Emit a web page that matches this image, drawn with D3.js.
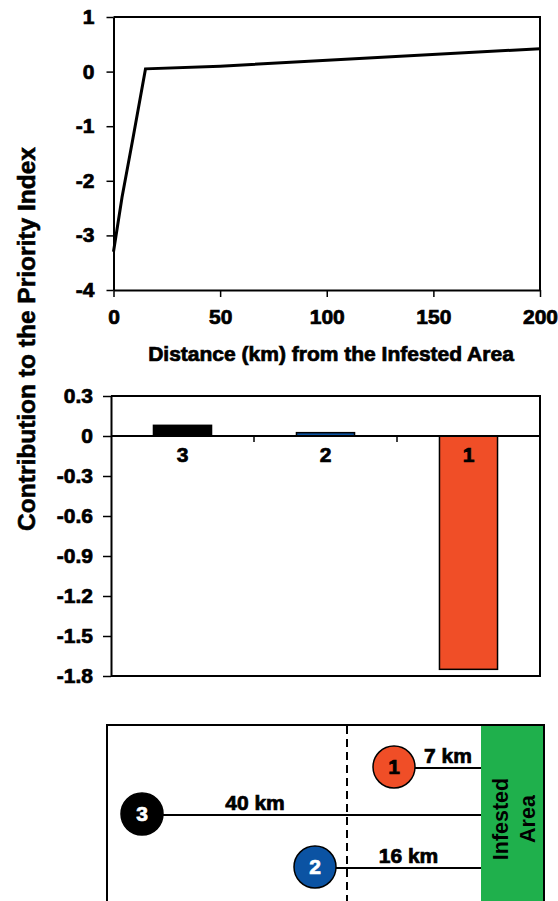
<!DOCTYPE html>
<html>
<head>
<meta charset="utf-8">
<script src="https://cdn.jsdelivr.net/npm/d3@7"></script>
<style>
body { margin: 0; background: #fff; }
text { font-family: "Liberation Sans", Arial, sans-serif; font-weight: bold; }
</style>
</head>
<body>
<div id="chart"></div>
<script>
// top panel: contribution vs distance
var distKm = [0, 4, 9, 15, 50, 200];
var contrib = [-3.3, -2.3, -1.25, 0.05, 0.1, 0.42];
var lineXTicks = [0, 50, 100, 150, 200];
var lineYTicks = [1, 0, -1, -2, -3, -4];

// middle panel: contribution of each site
var sites = ["3", "2", "1"];
var siteValues = [0.08, 0.025, -1.75];
var siteColors = ["#000000", "#0b53a3", "#f04e27"];
var barYTicks = [0.3, 0, -0.3, -0.6, -0.9, -1.2, -1.5, -1.8];

// bottom panel: schematic of sites
var mapSites = ["1", "3", "2"];
var mapKm = [7, 40, 16];
var mapColors = ["#f04e27", "#000000", "#0b53a3"];
var mapTextColors = ["#000000", "#ffffff", "#ffffff"];

var svg = d3.select("#chart")
    .append("svg")
    .attr("width", 558)
    .attr("height", 901);

var FS = 20;

// widen horizontal text a little and thicken it, the original lettering is heavy
function stretch(sel) {
    sel.each(function () {
        var w = this.getComputedTextLength();
        d3.select(this)
            .attr("textLength", w * 1.05)
            .attr("lengthAdjust", "spacingAndGlyphs")
            .attr("stroke", d3.select(this).attr("fill") || "#000")
            .attr("stroke-width", 0.7);
    });
}

function styleAxis(g) {
    g.attr("font-size", FS)
        .attr("font-family", "Liberation Sans, Arial, sans-serif")
        .attr("font-weight", "bold");
    g.select(".domain").attr("stroke-width", 2);
    g.selectAll(".tick line").attr("stroke-width", 1.5);
    g.selectAll(".tick text").attr("fill", "#000").call(stretch);
}

/********************************************************/
// line chart

var x = d3.scaleLinear().domain([0, 200]).range([113.5, 540]);
var y = d3.scaleLinear().domain([-4, 1]).range([290, 17]);

svg.append("g")
    .attr("transform", "translate(0,290)")
    .call(d3.axisBottom(x).tickValues(lineXTicks).tickSize(7).tickPadding(13).tickSizeOuter(0))
    .call(styleAxis);

svg.append("g")
    .attr("transform", "translate(113.5,0)")
    .call(d3.axisLeft(y).tickValues(lineYTicks).tickSize(7).tickPadding(12).tickSizeOuter(0)
        .tickFormat(d => String(d)))
    .call(styleAxis);

svg.append("path")
    .attr("d", `M${x(0)},${y(1)}H${x(200)}V${y(-4)}`)
    .attr("fill", "none")
    .attr("stroke", "#000")
    .attr("stroke-width", 2);

var pts = distKm.map((d, i) => [d, contrib[i]]);
svg.append("path")
    .datum(pts)
    .attr("d", d3.line().x(d => x(d[0])).y(d => y(d[1])))
    .attr("fill", "none")
    .attr("stroke", "#000")
    .attr("stroke-width", 3);

svg.append("text")
    .attr("x", 331)
    .attr("y", 361)
    .attr("text-anchor", "middle")
    .attr("font-size", FS)
    .attr("fill", "#000")
    .text("Distance (km) from the Infested Area")
    .call(stretch);

svg.append("text")
    .attr("transform", "translate(35,339) rotate(-90)")
    .attr("text-anchor", "middle")
    .attr("font-size", 24.5)
    .attr("stroke", "#000")
    .attr("stroke-width", 0.6)
    .text("Contribution to the Priority Index");

/********************************************************/
// bar chart

var xb = d3.scaleBand().domain(sites).range([111, 540]).paddingInner(0.594).paddingOuter(0.297);
var yb = d3.scaleLinear().domain([-1.8, 0.3]).range([676, 396]);
var y0 = yb(0);

svg.append("g")
    .attr("transform", "translate(111,0)")
    .call(d3.axisLeft(yb).tickValues(barYTicks).tickSize(8).tickPadding(10).tickSizeOuter(0)
        .tickFormat(d => d === 0 ? "0" : d.toFixed(1)))
    .call(styleAxis);

svg.append("path")
    .attr("d", `M111,${yb(0.3)}H540V${yb(-1.8)}H111`)
    .attr("fill", "none")
    .attr("stroke", "#000")
    .attr("stroke-width", 2);

svg.selectAll(".bar")
    .data(sites)
    .enter()
    .append("rect")
    .attr("class", "bar")
    .attr("x", d => xb(d))
    .attr("width", xb.bandwidth())
    .attr("y", (d, i) => Math.min(yb(siteValues[i]), y0))
    .attr("height", (d, i) => Math.abs(yb(siteValues[i]) - y0))
    .attr("fill", (d, i) => siteColors[i])
    .attr("stroke", "#000")
    .attr("stroke-width", 1.5);

svg.append("line")
    .attr("x1", 111).attr("x2", 540)
    .attr("y1", y0).attr("y2", y0)
    .attr("stroke", "#000")
    .attr("stroke-width", 2);

svg.selectAll(".cat-tick")
    .data(sites.slice(1))
    .enter()
    .append("line")
    .attr("class", "cat-tick")
    .attr("x1", d => xb(d) - xb.step() * xb.paddingInner() / 2)
    .attr("x2", d => xb(d) - xb.step() * xb.paddingInner() / 2)
    .attr("y1", y0).attr("y2", y0 + 6)
    .attr("stroke", "#000")
    .attr("stroke-width", 1.5);

svg.selectAll(".cat-label")
    .data(sites)
    .enter()
    .append("text")
    .attr("class", "cat-label")
    .attr("x", d => xb(d) + xb.bandwidth() / 2)
    .attr("y", y0 + 26)
    .attr("text-anchor", "middle")
    .attr("font-size", FS)
    .attr("fill", "#000")
    .text(d => d)
    .call(stretch);

/********************************************************/
// schematic

var mx = d3.scaleLinear().domain([0, 7, 16, 40]).range([481, 394, 315, 142]);
var my = d3.scaleOrdinal().domain(mapSites).range([767, 814, 867]);
var dashX = 347;
var r = 21;

svg.append("rect")
    .attr("x", 481).attr("y", 725)
    .attr("width", 63).attr("height", 200)
    .attr("fill", "#1fb04c");

svg.append("rect")
    .attr("x", 107).attr("y", 725)
    .attr("width", 437).attr("height", 200)
    .attr("fill", "none")
    .attr("stroke", "#000")
    .attr("stroke-width", 2);

svg.append("line")
    .attr("x1", dashX).attr("x2", dashX)
    .attr("y1", 726).attr("y2", 901)
    .attr("stroke", "#000")
    .attr("stroke-width", 2)
    .attr("stroke-dasharray", "8,5");

var mapData = mapSites.map((s, i) => ({ s: s, km: mapKm[i], fill: mapColors[i], tc: mapTextColors[i] }));

svg.selectAll(".link")
    .data(mapData)
    .enter()
    .append("line")
    .attr("class", "link")
    .attr("x1", d => mx(d.km) + r)
    .attr("x2", mx(0))
    .attr("y1", d => my(d.s) + 1)
    .attr("y2", d => my(d.s) + 1)
    .attr("stroke", "#000")
    .attr("stroke-width", 2);

svg.selectAll(".km-label")
    .data(mapData)
    .enter()
    .append("text")
    .attr("class", "km-label")
    .attr("x", d => {
        var end = d.km > 20 ? dashX : mx(0);
        return (mx(d.km) + r + end) / 2;
    })
    .attr("y", d => my(d.s) - 4)
    .attr("text-anchor", "middle")
    .attr("font-size", FS)
    .attr("fill", "#000")
    .text(d => d.km + " km")
    .call(stretch);

svg.selectAll(".site")
    .data(mapData)
    .enter()
    .append("circle")
    .attr("class", "site")
    .attr("cx", d => mx(d.km))
    .attr("cy", d => my(d.s))
    .attr("r", r)
    .attr("fill", d => d.fill)
    .attr("stroke", "#000")
    .attr("stroke-width", 1.5);

svg.selectAll(".site-label")
    .data(mapData)
    .enter()
    .append("text")
    .attr("class", "site-label")
    .attr("x", d => mx(d.km))
    .attr("y", d => my(d.s) + 7)
    .attr("text-anchor", "middle")
    .attr("font-size", FS)
    .attr("fill", d => d.tc)
    .text(d => d.s)
    .call(stretch);

svg.append("text")
    .attr("transform", "translate(508,819) rotate(-90)")
    .attr("text-anchor", "middle")
    .attr("font-size", 21.5)
    .attr("fill", "#000")
    .text("Infested");

svg.append("text")
    .attr("transform", "translate(535,819) rotate(-90)")
    .attr("text-anchor", "middle")
    .attr("font-size", 21.5)
    .attr("fill", "#000")
    .text("Area");
</script>
</body>
</html>
